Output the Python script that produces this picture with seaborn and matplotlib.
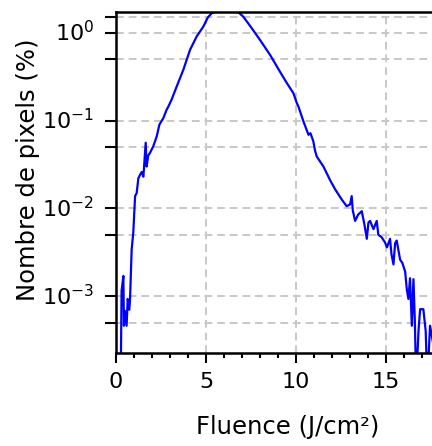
"""
Fluence histogram, log scale
"""
import matplotlib
matplotlib.use("Agg")
import matplotlib.pyplot as plt
import matplotlib.transforms as mtransforms
from matplotlib.ticker import MultipleLocator, NullLocator
import seaborn as sns

# values
fluence = [0.26, 0.31, 0.41, 0.44, 0.50, 0.59, 0.65, 0.74, 0.78, 0.87,
           0.96, 1.06, 1.15, 1.24, 1.33, 1.43, 1.52, 1.65, 1.70, 1.79,
           1.89, 2.07, 2.26, 2.41, 2.63, 2.81, 2.91, 3.09, 3.37, 3.74,
           4.11, 4.48, 4.85, 5.10, 5.31, 5.50, 5.80, 6.10, 6.40, 6.70,
           6.85, 7.07, 7.54, 8.00, 8.56, 9.11, 9.48, 9.67, 9.85, 10.04,
           10.13, 10.41, 10.69, 10.80, 10.96, 11.05, 11.15, 11.52, 11.89, 12.17,
           12.54, 12.81, 13.00, 13.09, 13.15, 13.28, 13.45, 13.65, 13.80, 13.93,
           14.02, 14.11, 14.30, 14.48, 14.57, 14.75, 14.94, 15.05, 15.22, 15.30,
           15.41, 15.50, 15.59, 15.78, 15.90, 16.06, 16.15, 16.24, 16.33, 16.43,
           16.52, 16.60, 16.67, 16.80, 16.89, 17.07, 17.20, 17.29, 17.44, 17.60]
pixels = [1e-4, 1.15e-3, 1.7e-3, 4.6e-4, 6.8e-4, 4.6e-4, 9.3e-4, 7e-4, 9.3e-4, 3.4e-3,
          5.3e-3, 0.0138, 0.015, 0.022, 0.024, 0.026, 0.023, 0.056, 0.030, 0.040,
          0.043, 0.051, 0.066, 0.090, 0.107, 0.133, 0.145, 0.174, 0.245, 0.38,
          0.64, 0.91, 1.18, 1.5, 1.67, 1.75, 1.8, 1.8, 1.8, 1.75,
          1.68, 1.53, 1.13, 0.83, 0.56, 0.36, 0.27, 0.235, 0.206, 0.159,
          0.145, 0.098, 0.069, 0.072, 0.058, 0.046, 0.039, 0.030, 0.021, 0.0165,
          0.0126, 0.0106, 0.0111, 0.0138, 0.0095, 0.0072, 0.0085, 0.0093, 0.0065, 0.0045,
          0.0069, 0.0072, 0.0058, 0.0072, 0.0050, 0.0047, 0.0041, 0.0036, 0.0045, 0.0030,
          0.0023, 0.0040, 0.0043, 0.0026, 0.0024, 0.0019, 0.0012, 0.00093, 0.0016, 0.00046,
          0.00156, 0.0005, 1e-4, 0.0004, 0.00071, 0.00071, 0.0004, 1e-4, 0.00046, 0.0003]

x_ticks = [0, 5, 10, 15]
y_ticks = [5e-4, 1e-3, 5e-3, 1e-2, 5e-2, 1e-1, 0.5, 1, 1.5]
y_ticklabels = ['', r'$\mathregular{10^{-3}}$', '', r'$\mathregular{10^{-2}}$', '',
                r'$\mathregular{10^{-1}}$', '', r'$\mathregular{10^{0}}$', '']

sns.set_style("white")
plt.rcParams['font.family'] = ['DejaVu Sans']
for key in ['text.color', 'axes.labelcolor', 'xtick.color', 'ytick.color']:
    plt.rcParams[key] = 'black'

fig = plt.figure(figsize=(4.32, 4.46), dpi=100)
ax = fig.add_axes([116 / 432, 1 - 353 / 446, 316 / 432, 341 / 446])

sns.lineplot(x=fluence, y=pixels, color="#0000ff", linewidth=1.6, ax=ax)

ax.set_yscale("log")
ax.set_xlim(0, 17.55)
ax.set_ylim(2.25e-4, 1.73)

ax.set_xticks(x_ticks)
ax.xaxis.set_minor_locator(MultipleLocator(1))
ax.set_yticks(y_ticks)
ax.set_yticklabels(y_ticklabels)
ax.yaxis.set_minor_locator(NullLocator())

# push the y labels down a little, as in the reference
shift = mtransforms.ScaledTranslation(0, -4 / 72, fig.dpi_scale_trans)
for lbl in ax.get_yticklabels():
    lbl.set_verticalalignment("center")
    lbl.set_transform(lbl.get_transform() + shift)

ax.tick_params(axis="both", which="major", labelsize=16, width=1.5,
               color="black", labelcolor="black", direction="out",
               left=True, bottom=True)
ax.tick_params(axis="x", which="major", length=7.5, pad=6)
ax.tick_params(axis="y", which="major", length=8, pad=8)
ax.tick_params(axis="x", which="minor", length=3.8, width=1.5, bottom=True)

ax.set_axisbelow(True)
ax.grid(True, which="major", color="#c8c8c8", linestyle=(0, (4, 2.5)), linewidth=1.4)

for side in ["left", "bottom", "top"]:
    ax.spines[side].set_linewidth(1.8)
    ax.spines[side].set_color("black")
ax.spines["right"].set_visible(False)

ax.set_xlabel("Fluence (J/cm²)", fontsize=17.5, color="black")
ax.set_ylabel("Nombre de pixels (%)", fontsize=17.5, color="black")
ax.xaxis.set_label_coords(0.543, -0.183)
ax.yaxis.set_label_coords(-0.24, 0.537)

plt.savefig("out.png", dpi=100)
